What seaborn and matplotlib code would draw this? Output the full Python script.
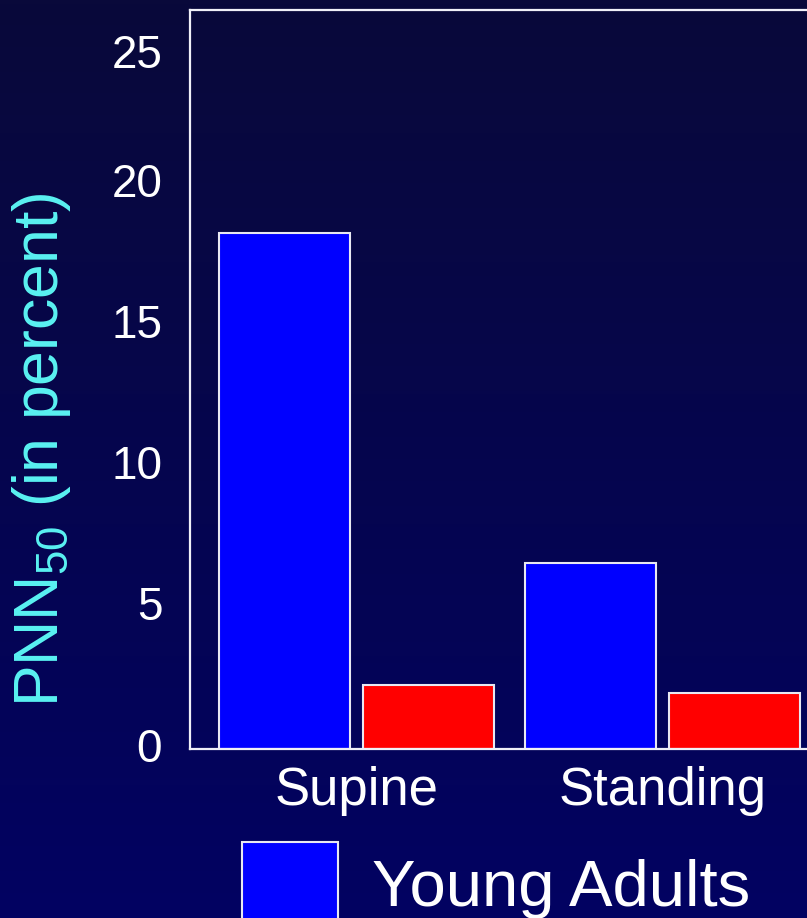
import numpy as np
import pandas as pd
import matplotlib
matplotlib.use("Agg")
import matplotlib.pyplot as plt
from matplotlib.colors import LinearSegmentedColormap
from matplotlib.transforms import ScaledTranslation
import seaborn as sns

# ---- data ----
conditions = ["Supine", "Standing"]
groups = ["Young Adults", "Elderly"]
young_adults = [18.3, 6.6]
elderly = [2.27, 2.0]
y_ticks = [0, 5, 10, 15, 20, 25]

df = pd.DataFrame({
    "Condition": conditions * 2,
    "Group": [groups[0]] * len(conditions) + [groups[1]] * len(conditions),
    "PNN50": young_adults + elderly,
})

sns.set_theme(style="white")
plt.rcParams["font.family"] = ["Liberation Sans", "DejaVu Sans"]

W, H = 807, 918
fig = plt.figure(figsize=(W / 100, H / 100), dpi=100)

# background gradient
bg = fig.add_axes([0, 0, 1, 1], zorder=-10)
grad = np.linspace(0, 1, 256).reshape(-1, 1)
cmap = LinearSegmentedColormap.from_list("bg", ["#09093a", "#020262"])
bg.imshow(grad, aspect="auto", cmap=cmap, extent=[0, 1, 0, 1], origin="upper")
bg.axis("off")

ax = fig.add_axes([190 / W, 169 / H, 1.0, 739 / H])
ax.patch.set_alpha(0)

sns.barplot(data=df, x="Condition", y="PNN50", hue="Group",
            palette={groups[0]: "#0000FF", groups[1]: "#FF0000"},
            saturation=1, width=0.94, gap=0.085,
            edgecolor="#e8e8f2", linewidth=1.5, ax=ax)

x0 = -166.5 / 306
ax.set_xlim(x0, x0 + W / 306)
ax.set_ylim(0, 26.2)
ax.set_yticks(y_ticks)
ax.set_xlabel("")

for s in ["top", "left", "bottom"]:
    ax.spines[s].set_color("#f0f0f8")
    ax.spines[s].set_linewidth(1.6)
ax.spines["right"].set_visible(False)

ax.tick_params(axis="y", length=0, pad=20, labelsize=33, colors="white")
ax.tick_params(axis="x", length=0, pad=12, labelsize=38, colors="white")

# small vertical nudges of the y tick labels (points)
for lab in ax.get_yticklabels():
    dy = 4.5 if lab.get_text() != "25" else -7.5
    lab.set_transform(lab.get_transform() + ScaledTranslation(0, dy / 100, fig.dpi_scale_trans))

ax.set_ylabel("PNN$_{\\mathregular{50}}$ (in percent)", fontsize=45, color="#5af2f2")
ax.yaxis.set_label_coords(-0.145, 0.405)

sns.move_legend(ax, "upper left", bbox_to_anchor=(242 / W, 1 - 842 / H),
                bbox_transform=fig.transFigure, title=None, frameon=False,
                fontsize=47, handlelength=1.47, handleheight=1.65,
                handletextpad=0.52, borderpad=0, borderaxespad=0,
                labelcolor="white")

fig.savefig("out.png", dpi=100)
